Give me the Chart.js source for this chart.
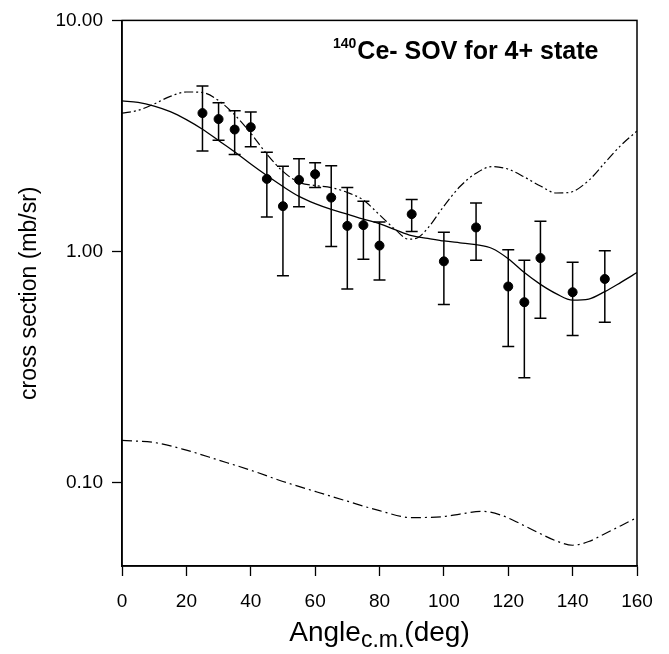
<!DOCTYPE html>
<html lang="en">
<head>
    <meta charset="UTF-8">
    <title>140Ce SOV 4+ state</title>
    <script src="https://cdn.jsdelivr.net/npm/chart.js@4.4.0/dist/chart.umd.min.js"></script>
    <style>
        body { margin: 0; background: #fff; }
        .chart-box { width: 669px; height: 654px; position: relative; }
    </style>
</head>
<body>
    <div class="chart-box">
        <canvas id="xsChart"></canvas>
    </div>
    <script>
        // measured points with error bars
        const angles = [25, 30, 35, 40, 45, 50, 55, 60, 65, 70, 75, 80, 90, 100, 110, 120, 125, 130, 140, 150];
        const values = [3.97, 3.74, 3.37, 3.45, 2.06, 1.57, 2.04, 2.16, 1.71, 1.29, 1.30, 1.06, 1.45, 0.906, 1.27, 0.705, 0.603, 0.936, 0.666, 0.76];
        const errHigh = [5.2, 4.4, 4.06, 4.01, 2.69, 2.34, 2.52, 2.42, 2.35, 1.89, 1.65, 1.34, 1.68, 1.21, 1.62, 1.017, 0.915, 1.35, 0.897, 1.007];
        const errLow = [2.72, 3.03, 2.63, 2.84, 1.41, 0.785, 1.56, 1.89, 1.05, 0.688, 0.926, 0.752, 1.22, 0.589, 0.917, 0.388, 0.284, 0.514, 0.433, 0.494];

        // solid curve
        const solidAngles = [0, 5, 10, 15, 20, 25, 30, 35, 40, 45, 50, 55, 60, 65, 70, 75, 80, 85, 90, 95, 100, 105, 110, 115, 120, 125, 130, 135, 140, 145, 150, 155, 160];
        const solidValues = [4.48, 4.42, 4.26, 4.03, 3.72, 3.38, 3.02, 2.70, 2.39, 2.13, 1.91, 1.73, 1.61, 1.52, 1.45, 1.38, 1.32, 1.24, 1.17, 1.14, 1.11, 1.09, 1.07, 1.03, 0.93, 0.81, 0.72, 0.655, 0.615, 0.622, 0.67, 0.735, 0.81];

        // upper dash-dot-dot curve
        const upperAngles = [0, 5, 10, 15, 20, 25, 30, 35, 40, 45, 50, 55, 60, 65, 70, 75, 80, 85, 89, 92, 95, 100, 105, 110, 115, 120, 125, 130, 135, 139, 145, 150, 155, 160];
        const upperValues = [3.97, 4.08, 4.35, 4.69, 4.90, 4.87, 4.50, 3.90, 3.25, 2.64, 2.22, 1.99, 1.93, 1.89, 1.80, 1.67, 1.44, 1.24, 1.13, 1.15, 1.26, 1.57, 1.91, 2.18, 2.33, 2.27, 2.10, 1.92, 1.79, 1.80, 2.03, 2.42, 2.88, 3.32];

        // lower dash-dot curve
        const lowerAngles = [0, 10, 20, 30, 40, 50, 60, 70, 80, 90, 100, 105, 112, 118, 125, 130, 135, 140, 145, 150, 155, 160];
        const lowerValues = [0.152, 0.149, 0.138, 0.125, 0.113, 0.101, 0.0915, 0.083, 0.0755, 0.0705, 0.0712, 0.073, 0.075, 0.072, 0.065, 0.060, 0.0558, 0.0535, 0.0555, 0.060, 0.065, 0.0705];

        const yTicks = [0.1, 1, 10];

        const toXY = (xs, ys) => xs.map((x, i) => ({ x: x, y: ys[i] }));

        const FONT = "'Liberation Sans', Arial, Helvetica, sans-serif";

        // error bars, box frame and texts
        const extras = {
            id: 'extras',
            afterDatasetsDraw(chart) {
                const ctx = chart.ctx;
                const xs = chart.scales.x, ys = chart.scales.y;
                ctx.save();
                ctx.strokeStyle = '#000';
                ctx.lineWidth = 1.5;
                angles.forEach((a, i) => {
                    const px = xs.getPixelForValue(a);
                    const top = ys.getPixelForValue(errHigh[i]);
                    const bot = ys.getPixelForValue(errLow[i]);
                    ctx.beginPath();
                    ctx.moveTo(px, top); ctx.lineTo(px, bot);
                    ctx.moveTo(px - 6, top); ctx.lineTo(px + 6, top);
                    ctx.moveTo(px - 6, bot); ctx.lineTo(px + 6, bot);
                    ctx.stroke();
                });
                const a = chart.chartArea;
                ctx.lineWidth = 1.5;
                ctx.strokeRect(a.left, a.top, a.right - a.left, a.bottom - a.top);
                ctx.restore();
            },
            afterDraw(chart) {
                const ctx = chart.ctx;
                const a = chart.chartArea;
                ctx.save();
                ctx.fillStyle = '#000';
                ctx.textBaseline = 'alphabetic';
                // title with superscript
                ctx.font = 'bold 14px ' + FONT;
                const sup = '140';
                ctx.textAlign = 'left';
                let tx = a.left + 211;
                ctx.fillText(sup, tx, a.top + 28);
                tx += ctx.measureText(sup).width + 1;
                ctx.font = 'bold 25px ' + FONT;
                ctx.fillText('Ce- SOV for 4+ state', tx, a.top + 39);

                // x axis title with subscript
                const main1 = 'Angle', subTxt = 'c.m.', main2 = '(deg)';
                ctx.font = '28px ' + FONT;
                const w1 = ctx.measureText(main1).width;
                const w3 = ctx.measureText(main2).width;
                ctx.font = '23px ' + FONT;
                const w2 = ctx.measureText(subTxt).width;
                const total = w1 + w2 + w3;
                let x0 = (a.left + a.right) / 2 - total / 2;
                const base = a.bottom + 75;
                ctx.font = '28px ' + FONT;
                ctx.fillText(main1, x0, base);
                ctx.font = '23px ' + FONT;
                ctx.fillText(subTxt, x0 + w1, base + 6);
                ctx.font = '28px ' + FONT;
                ctx.fillText(main2, x0 + w1 + w2, base);
                ctx.restore();
            }
        };

        const ctx = document.getElementById('xsChart').getContext('2d');
        new Chart(ctx, {
            type: 'scatter',
            data: {
                datasets: [
                    {
                        label: 'data',
                        data: toXY(angles, values),
                        backgroundColor: '#000',
                        borderColor: '#000',
                        pointRadius: 4.5,
                        showLine: false,
                        order: 0
                    },
                    {
                        label: 'solid',
                        data: toXY(solidAngles, solidValues),
                        showLine: true,
                        borderColor: '#000',
                        borderWidth: 1.3,
                        pointRadius: 0,
                        cubicInterpolationMode: 'monotone',
                        order: 1
                    },
                    {
                        label: 'upper',
                        data: toXY(upperAngles, upperValues),
                        showLine: true,
                        borderColor: '#000',
                        borderWidth: 1.2,
                        borderDash: [9, 3, 2, 3, 2, 3],
                        pointRadius: 0,
                        cubicInterpolationMode: 'monotone',
                        order: 2
                    },
                    {
                        label: 'lower',
                        data: toXY(lowerAngles, lowerValues),
                        showLine: true,
                        borderColor: '#000',
                        borderWidth: 1.2,
                        borderDash: [10, 4, 2, 4],
                        pointRadius: 0,
                        cubicInterpolationMode: 'monotone',
                        order: 3
                    }
                ]
            },
            options: {
                responsive: true,
                maintainAspectRatio: false,
                animation: false,
                layout: { padding: { left: 0, right: 32, top: 18, bottom: 0 } },
                plugins: {
                    legend: { display: false },
                    tooltip: { enabled: false }
                },
                scales: {
                    x: {
                        type: 'linear',
                        min: 0,
                        max: 160,
                        afterFit: (s) => { s.height = 88; },
                        ticks: {
                            stepSize: 20,
                            color: '#000',
                            padding: 14,
                            font: { family: FONT, size: 19 }
                        },
                        grid: {
                            drawOnChartArea: false,
                            drawTicks: true,
                            tickLength: 10,
                            tickColor: '#000',
                            tickWidth: 1.3
                        },
                        border: { display: true, color: '#000', width: 1.5 }
                    },
                    y: {
                        type: 'logarithmic',
                        min: 0.0435,
                        max: 10,
                        afterFit: (s) => { s.width = 122; },
                        afterBuildTicks: (s) => { s.ticks = yTicks.map(v => ({ value: v })); },
                        ticks: {
                            color: '#000',
                            padding: 9,
                            font: { family: FONT, size: 19 },
                            callback: (v) => Number(v).toFixed(2)
                        },
                        grid: {
                            drawOnChartArea: false,
                            drawTicks: true,
                            tickLength: 10,
                            tickColor: '#000',
                            tickWidth: 1.3
                        },
                        border: { display: true, color: '#000', width: 1.5 },
                        title: {
                            display: true,
                            text: 'cross section (mb/sr)',
                            color: '#000',
                            font: { family: FONT, size: 23 },
                            padding: { top: 16, bottom: 0 }
                        }
                    }
                }
            },
            plugins: [extras]
        });
    </script>
</body>
</html>
